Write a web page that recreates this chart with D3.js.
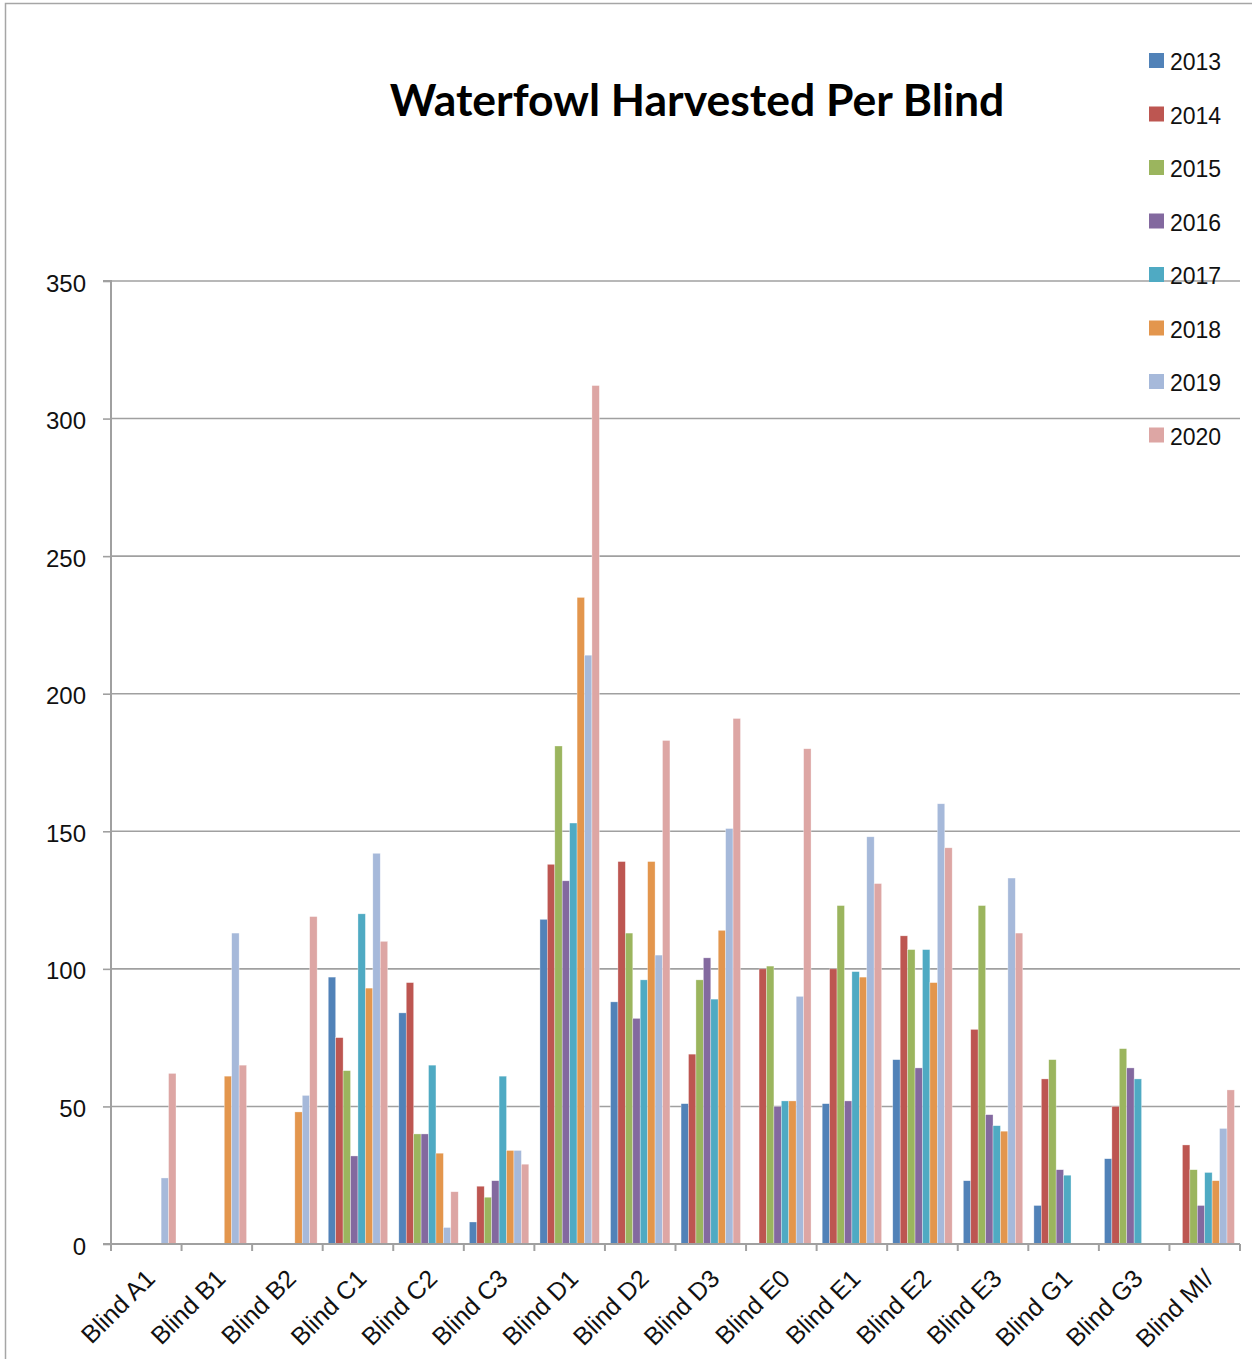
<!DOCTYPE html>
<html>
<head>
<meta charset="utf-8">
<script src="https://cdn.jsdelivr.net/npm/d3@7"></script>
<style>
  html, body { margin: 0; padding: 0; background: #fff; }
  svg { display: block; }
</style>
</head>
<body>
<svg id="chart" width="1252" height="1359"></svg>
<script>
const categories = ["Blind A1","Blind B1","Blind B2","Blind C1","Blind C2","Blind C3","Blind D1","Blind D2","Blind D3","Blind E0","Blind E1","Blind E2","Blind E3","Blind G1","Blind G3","Blind MI/"];
const years = ["2013","2014","2015","2016","2017","2018","2019","2020"];
// values per category, one per year (null = no bar)
const v2013 = [null,null,null,97,84,8,118,88,51,null,51,67,23,14,31,null];
const v2014 = [null,null,null,75,95,21,138,139,69,100,100,112,78,60,50,36];
const v2015 = [null,null,null,63,40,17,181,113,96,101,123,107,123,67,71,27];
const v2016 = [null,null,null,32,40,23,132,82,104,50,52,64,47,27,64,14];
const v2017 = [null,null,null,120,65,61,153,96,89,52,99,107,43,25,60,26];
const v2018 = [null,61,48,93,33,34,235,139,114,52,97,95,41,null,null,23];
const v2019 = [24,113,54,142,6,34,214,105,151,90,148,160,133,null,null,42];
const v2020 = [62,65,119,110,19,29,312,183,191,180,131,144,113,null,null,56];
const yTicks = [0,50,100,150,200,250,300,350];
const title = "Waterfowl Harvested Per Blind";

const seriesValues = [v2013,v2014,v2015,v2016,v2017,v2018,v2019,v2020];
const colors = ["#5182B8","#BD5651","#9BB55E","#83699F","#4FAAC3","#E3964D","#A6B9DA","#DDA6A4"];

const svg = d3.select("#chart");
const plotLeft = 111, plotRight = 1240, plotTop = 281, plotBottom = 1244;

// outer frame
svg.append("rect").attr("x",5.5).attr("y",3.5).attr("width",1300).attr("height",1400)
  .attr("fill","none").attr("stroke","#A6A6A6").attr("stroke-width",1.5);

const x = d3.scaleBand().domain(categories).range([plotLeft, plotRight]).paddingInner(0).paddingOuter(0);
const xs = d3.scaleBand().domain(years).range([0, x.bandwidth()]).paddingInner(0).paddingOuter(0.75);
const y = d3.scaleLinear().domain([0,350]).range([plotBottom, plotTop]);

// gridlines
svg.append("g").selectAll("line").data(yTicks.filter(d=>d>0)).join("line")
  .attr("x1",plotLeft).attr("x2",plotRight)
  .attr("y1",d=>y(d)).attr("y2",d=>y(d))
  .attr("stroke","#A0A0A0").attr("stroke-width",1.6);

// bars
const data = [];
categories.forEach((c,i)=>{
  years.forEach((yr,j)=>{
    const v = seriesValues[j][i];
    if (v != null) data.push({c, yr, v, j});
  });
});
svg.append("g").selectAll("rect").data(data).join("rect")
  .attr("x", d=>x(d.c)+xs(d.yr))
  .attr("y", d=>y(d.v))
  .attr("width", xs.bandwidth())
  .attr("height", d=>y(0)-y(d.v))
  .attr("fill", d=>colors[d.j])
  .attr("stroke","rgba(255,255,255,0.55)").attr("stroke-width",0.6);

// y axis
const yAxis = d3.axisLeft(y).tickValues(yTicks).tickSize(8).tickPadding(17).tickFormat(d3.format("d"));
const gy = svg.append("g").attr("transform",`translate(${plotLeft},0)`).call(yAxis);
gy.select(".domain").attr("stroke","#A0A0A0").attr("stroke-width",2).attr("d",`M-8,${plotTop}H0V${plotBottom}H-8`);
gy.selectAll(".tick line").attr("stroke","#A0A0A0").attr("stroke-width",1.6);
gy.selectAll(".tick text").attr("font-family","Liberation Sans, Arial, sans-serif").attr("font-size",24).attr("fill","#111").attr("dy","0.42em");

// x axis line + boundary ticks
const gx = svg.append("g");
gx.append("line").attr("x1",plotLeft).attr("x2",plotRight).attr("y1",plotBottom).attr("y2",plotBottom)
  .attr("stroke","#A0A0A0").attr("stroke-width",2);
const bounds = categories.map(c=>x(c)).concat([plotRight]);
gx.selectAll("line.tk").data(bounds).join("line").attr("class","tk")
  .attr("x1",d=>d).attr("x2",d=>d).attr("y1",plotBottom).attr("y2",plotBottom+7)
  .attr("stroke","#A0A0A0").attr("stroke-width",2);

// x labels
svg.append("g").selectAll("text").data(categories).join("text")
  .attr("transform", d=>`translate(${x(d)+x.bandwidth()/2+4},${plotBottom+30}) rotate(-45)`)
  .attr("text-anchor","end").attr("dy","0.35em")
  .attr("font-family","Liberation Sans, Arial, sans-serif").attr("font-size",25).attr("fill","#111")
  .text(d=>d);

// legend
const lg = svg.append("g");
years.forEach((yr,j)=>{
  const cy = 61 + j*53.5;
  lg.append("rect").attr("x",1149).attr("y",cy-8).attr("width",15).attr("height",15).attr("fill",colors[j]);
  lg.append("text").attr("x",1170).attr("y",cy).attr("dy","0.4em")
    .attr("font-family","Liberation Sans, Arial, sans-serif").attr("font-size",23).attr("fill","#111").text(yr);
});

// title
const t = svg.append("text").attr("x",697).attr("y",116).attr("text-anchor","middle")
  .attr("font-family","Lato, Open Sans, sans-serif").attr("font-weight","bold").attr("font-size",40).attr("fill","#000")
  .text(title);
const w = t.node().getComputedTextLength();
t.attr("font-size", 40*615/w);
</script>
</body>
</html>
